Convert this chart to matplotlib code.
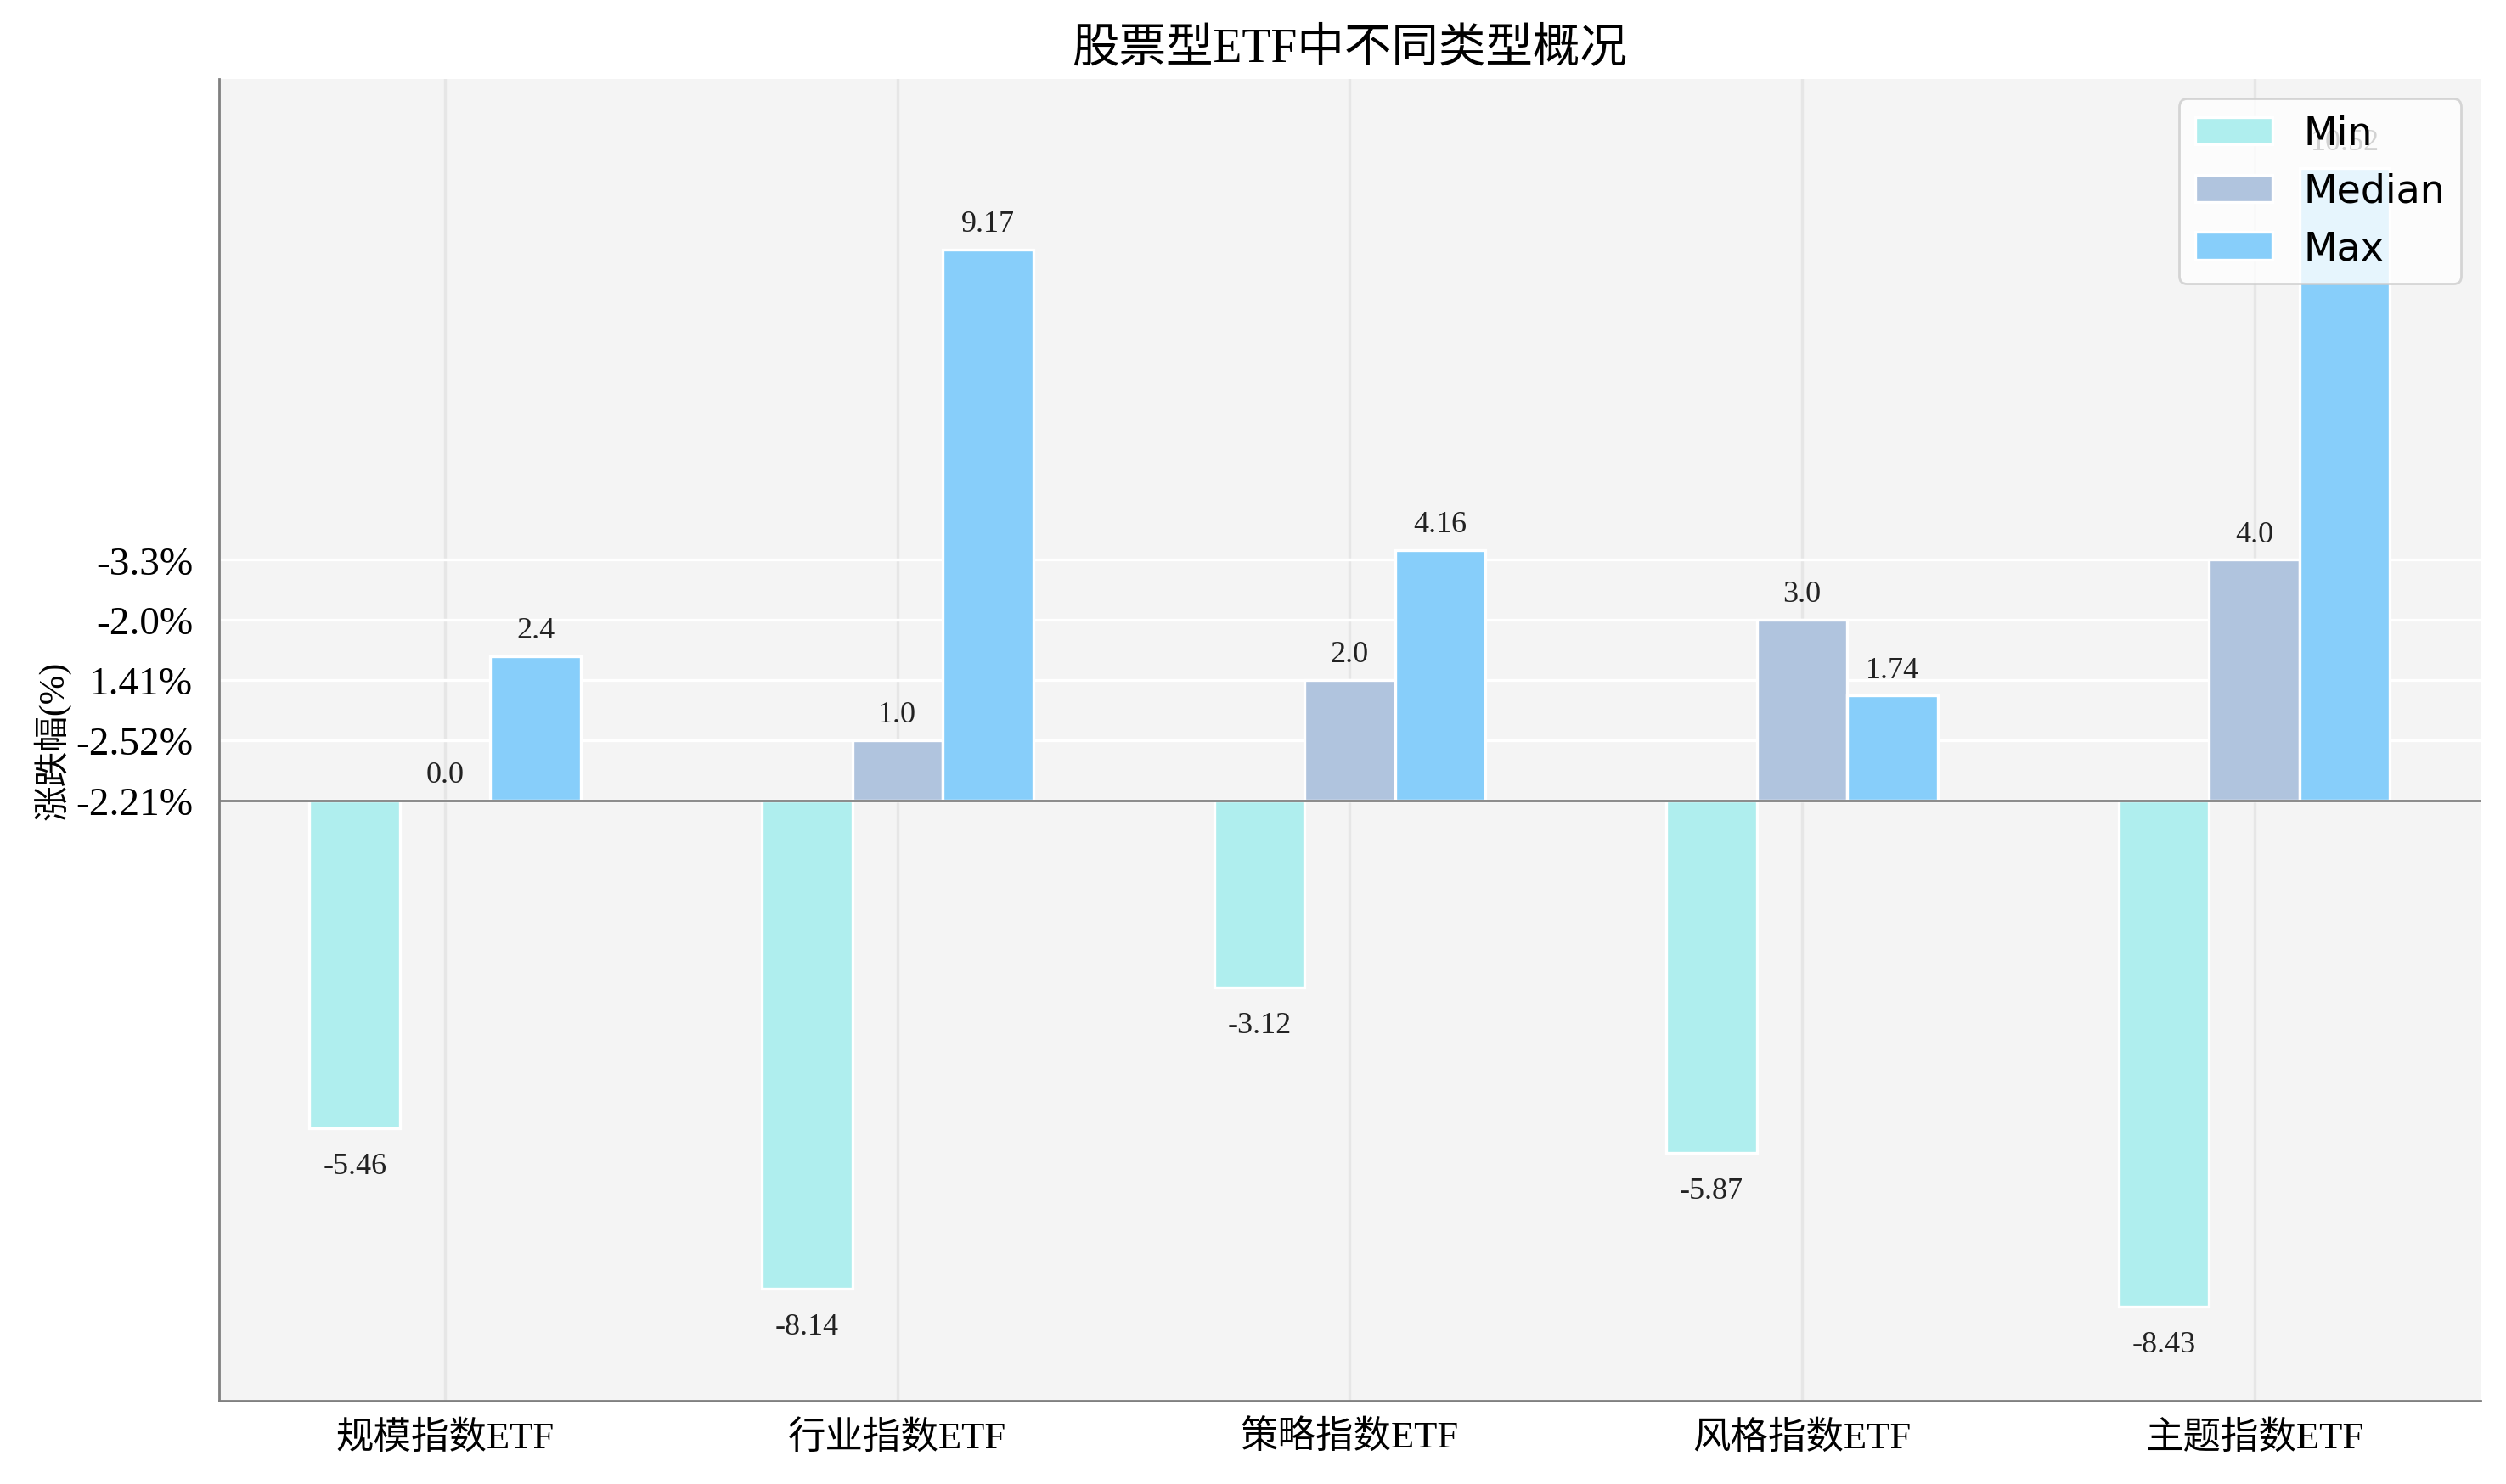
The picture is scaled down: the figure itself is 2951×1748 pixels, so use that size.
import numpy as np
import matplotlib.pyplot as plt

plt.rcParams['font.family'] = ['Liberation Serif', 'Noto Sans CJK SC', 'DejaVu Sans']
plt.rcParams['axes.unicode_minus'] = False

# data
categories = ['规模指数ETF', '行业指数ETF', '策略指数ETF', '风格指数ETF', '主题指数ETF']
min_vals = [-5.46, -8.14, -3.12, -5.87, -8.43]
median_vals = [0.0, 1.0, 2.0, 3.0, 4.0]
max_vals = [2.4, 9.17, 4.16, 1.74, 10.52]
ytick_pos = [0, 1, 2, 3, 4]
ytick_labels = ['-2.21%', '-2.52%', '1.41%', '-2.0%', '-3.3%']

series = [('Min', min_vals, '#AFEEEE'),
          ('Median', median_vals, '#B0C4DE'),
          ('Max', max_vals, '#87CEFA')]

fig = plt.figure(figsize=(14.755, 8.745), dpi=200)
ax = fig.add_axes([0.0874, 0.056, 0.9024, 0.890])
ax.set_facecolor('#f4f4f4')

x = np.arange(len(categories))
width = 0.2
for i, (name, vals, color) in enumerate(series):
    xs = x + (i - 1) * width
    ax.bar(xs, vals, width, color=color, edgecolor='white', linewidth=1.2, label=name, zorder=3)
    for xi, v in zip(xs, vals):
        if v >= 0:
            ax.annotate(str(v), (xi, v), xytext=(0, 5), textcoords='offset points',
                        ha='center', va='bottom', fontsize=13, color='#222222', zorder=4)
        else:
            ax.annotate(str(v), (xi, v), xytext=(0, -10), textcoords='offset points',
                        ha='center', va='top', fontsize=13, color='#222222', zorder=4)

ax.axhline(0, color='#808080', linewidth=1.0, zorder=4)
ax.set_xlim(-0.5, 4.5)
ax.set_ylim(-10, 12)
ax.set_xticks(x)
ax.set_xticklabels(categories, fontsize=16)
ax.set_yticks(ytick_pos)
ax.set_yticklabels(ytick_labels, fontsize=17)
ax.tick_params(axis='x', length=0, pad=8)
ax.tick_params(axis='y', length=0, pad=11)
ax.set_ylabel('涨跌幅(%)', fontsize=15, labelpad=2)
ax.set_title('股票型ETF中不同类型概况', fontsize=20, pad=8)

ax.xaxis.grid(True, color='#e6e6e6', linewidth=1.2, zorder=0)
ax.yaxis.grid(True, color='white', linewidth=1.2, zorder=0)
ax.set_axisbelow(True)
for s in ['top', 'right']:
    ax.spines[s].set_visible(False)
for s in ['left', 'bottom']:
    ax.spines[s].set_color('#808080')
    ax.spines[s].set_linewidth(1.0)

leg = ax.legend(loc='upper right', prop={'family': 'DejaVu Sans', 'size': 16.5},
                framealpha=0.8, edgecolor='#cccccc', fancybox=True)
leg.set_zorder(5)

fig.savefig('out.png', dpi=200)
